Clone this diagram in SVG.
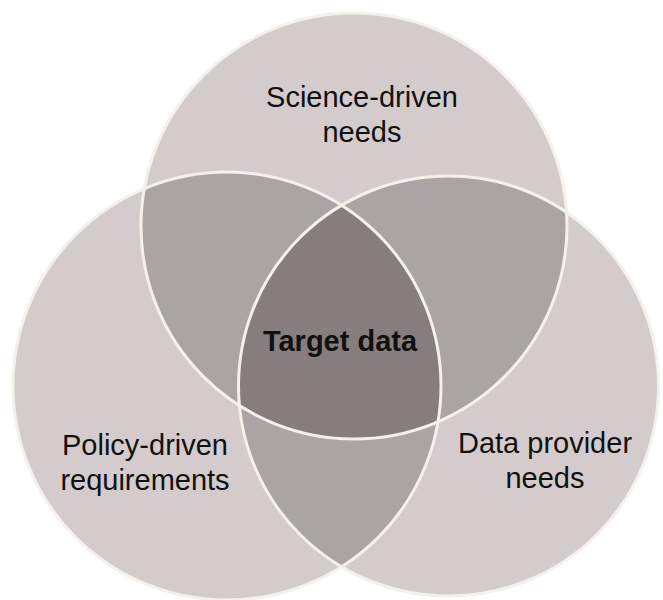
<svg xmlns="http://www.w3.org/2000/svg" width="663" height="600" viewBox="0 0 663 600">
  <defs>
    <clipPath id="cT"><circle cx="354" cy="226" r="213"/></clipPath>
    <clipPath id="cL"><circle cx="227" cy="386" r="214"/></clipPath>
    <clipPath id="cR"><circle cx="448.5" cy="386" r="210"/></clipPath>
    <style>
      .one { fill: #d4cccc; }
      .two { fill: #aaa4a4; }
      .three { fill: #867e7e; }
      .edge { fill: none; stroke: #f3f1ea; stroke-width: 3; }
      .lbl { font-family: "Liberation Sans", Arial, sans-serif; font-size: 29px; fill: #111; text-anchor: middle; }
      .bold { font-weight: bold; }
    </style>
  </defs>
  <rect width="663" height="600" fill="#ffffff"/>
  <g id="fills">
    <circle class="one" cx="354" cy="226" r="213"/>
    <circle class="one" cx="227" cy="386" r="214"/>
    <circle class="one" cx="448.5" cy="386" r="210"/>
    <g clip-path="url(#cT)"><circle class="two" cx="227" cy="386" r="214"/></g>
    <g clip-path="url(#cT)"><circle class="two" cx="448.5" cy="386" r="210"/></g>
    <g clip-path="url(#cL)"><circle class="two" cx="448.5" cy="386" r="210"/></g>
    <g clip-path="url(#cT)"><g clip-path="url(#cL)"><circle class="three" cx="448.5" cy="386" r="210"/></g></g>
  </g>
  <g id="science">
    <circle class="edge" cx="354" cy="226" r="213"/>
    <text class="lbl" x="362" y="107">Science-driven</text>
    <text class="lbl" x="362" y="142">needs</text>
  </g>
  <g id="policy">
    <circle class="edge" cx="227" cy="386" r="214"/>
    <text class="lbl" x="145" y="455">Policy-driven</text>
    <text class="lbl" x="145" y="490">requirements</text>
  </g>
  <g id="provider">
    <circle class="edge" cx="448.5" cy="386" r="210"/>
    <text class="lbl" x="545" y="453">Data provider</text>
    <text class="lbl" x="545" y="488">needs</text>
  </g>
  <g id="target">
    <text class="lbl bold" x="340" y="351">Target data</text>
  </g>
  <g id="connectors"/>
</svg>
